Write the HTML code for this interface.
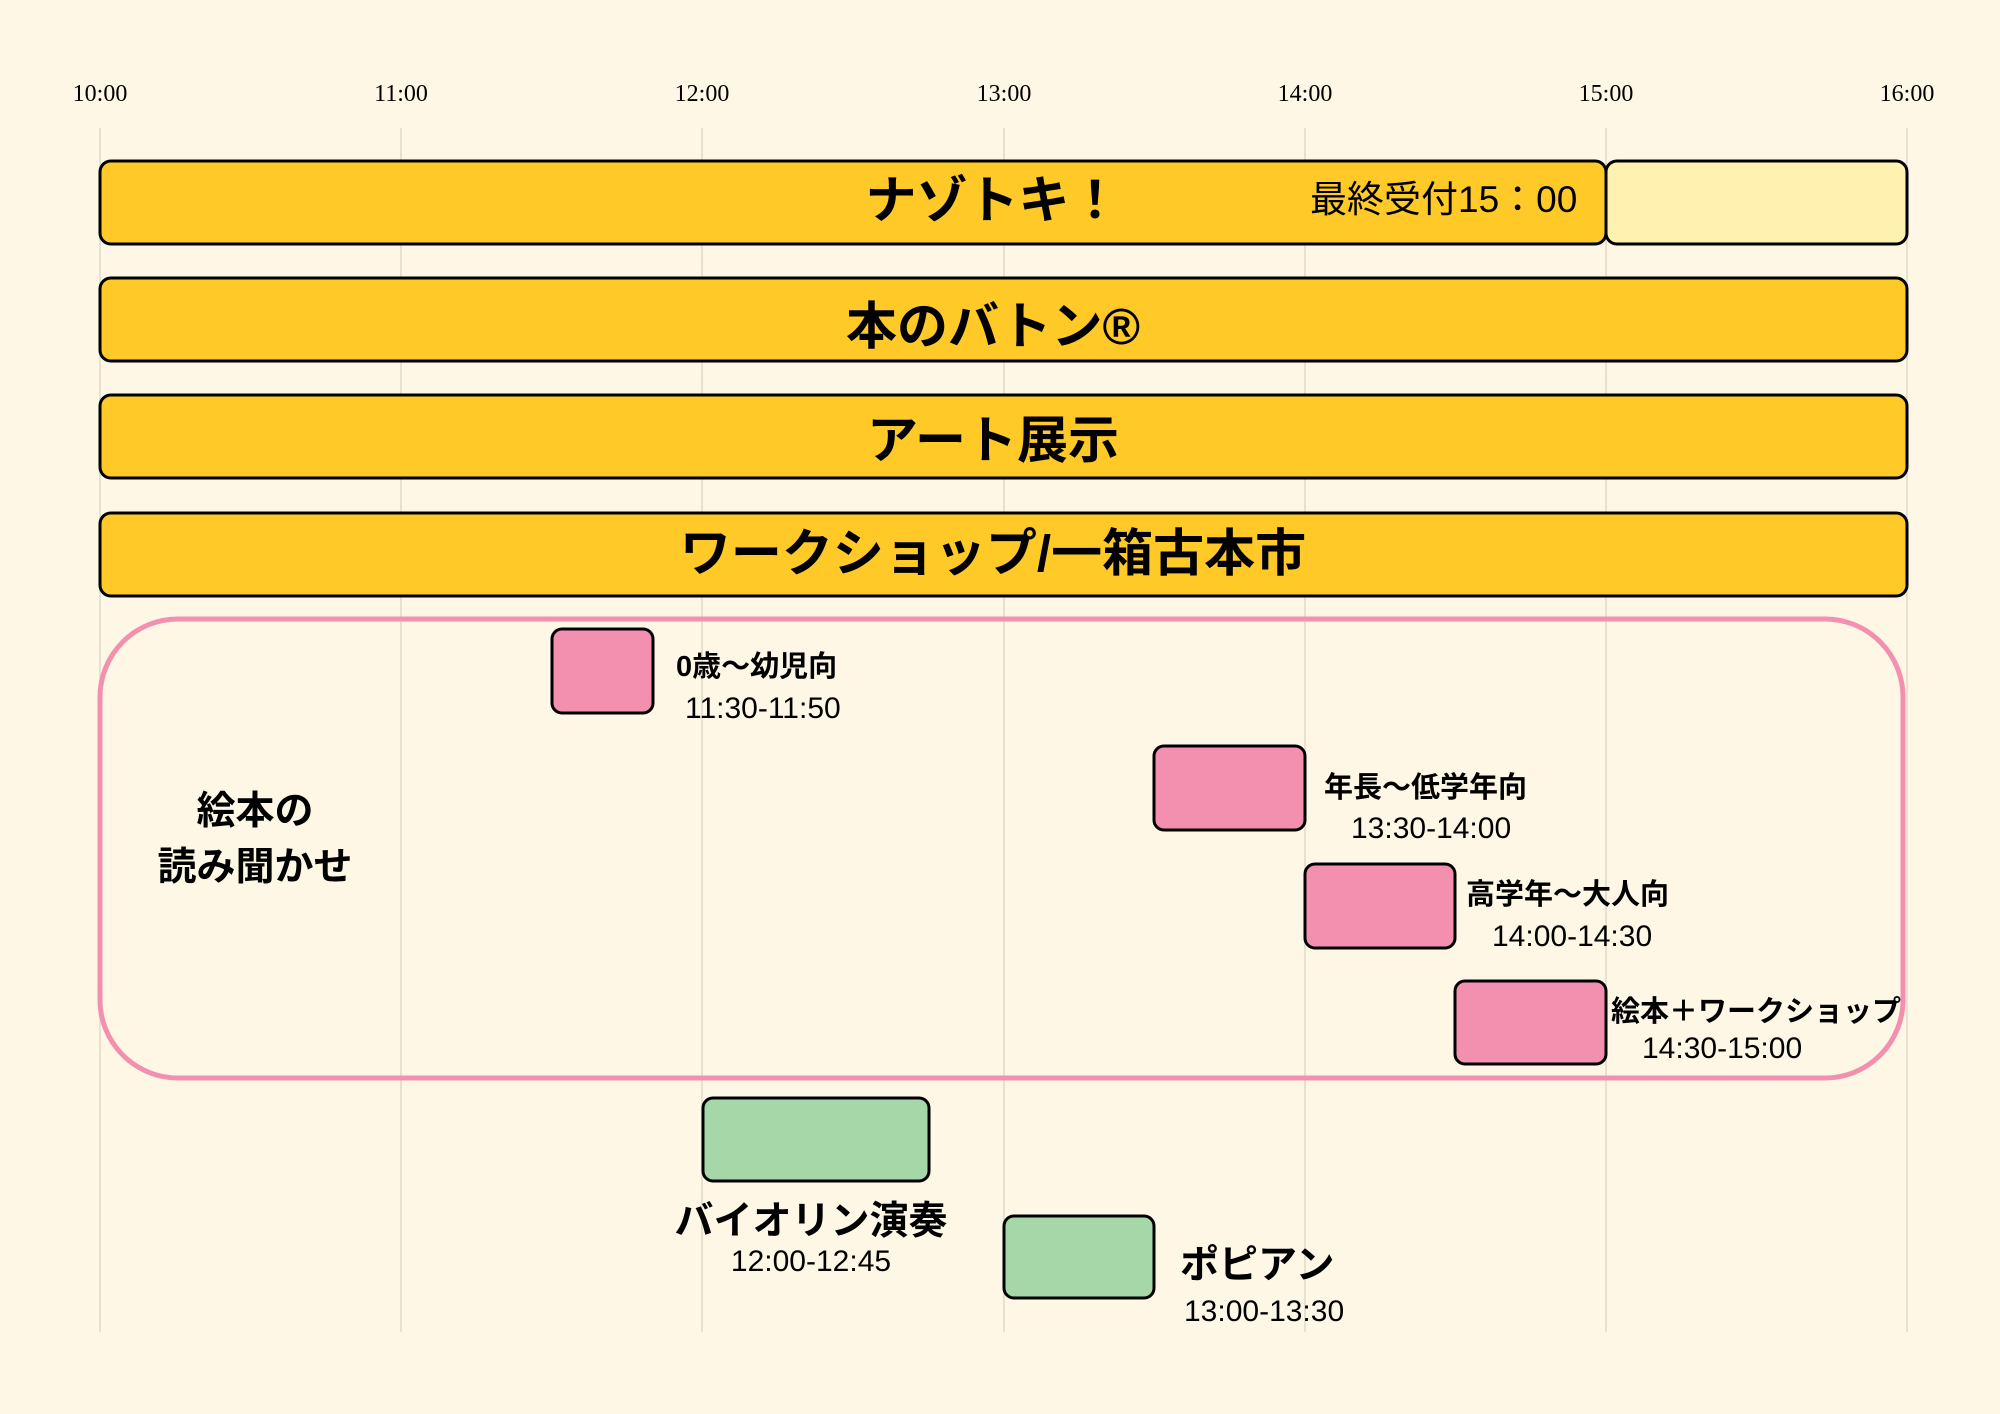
<!DOCTYPE html>
<html><head><meta charset="utf-8"><style>
html,body{margin:0;padding:0;background:#fef7e6;}
svg{display:block}
.j{font-family:"Liberation Sans","Noto Sans CJK JP",sans-serif;}
.b{font-weight:bold}
</style></head><body>
<svg width="2000" height="1414" viewBox="0 0 2000 1414" xmlns="http://www.w3.org/2000/svg">
<rect width="2000" height="1414" fill="#fef7e6"/>
<g stroke="#e9e1d0" stroke-width="2">
<line x1="100" y1="128" x2="100" y2="1332"/>
<line x1="401" y1="128" x2="401" y2="1332"/>
<line x1="702" y1="128" x2="702" y2="1332"/>
<line x1="1004" y1="128" x2="1004" y2="1332"/>
<line x1="1305" y1="128" x2="1305" y2="1332"/>
<line x1="1606" y1="128" x2="1606" y2="1332"/>
<line x1="1907" y1="128" x2="1907" y2="1332"/>
</g>
<g font-family="Liberation Serif, serif" font-size="24" text-anchor="middle" fill="#000">
<text x="100" y="101">10:00</text><text x="401" y="101">11:00</text><text x="702" y="101">12:00</text>
<text x="1004" y="101">13:00</text><text x="1305" y="101">14:00</text><text x="1606" y="101">15:00</text><text x="1907" y="101">16:00</text>
</g>
<g stroke="#000" stroke-width="3">
<rect x="100" y="161" width="1506" height="83" rx="11" fill="#ffc928"/>
<rect x="1606" y="161" width="301" height="83" rx="11" fill="#fff2b0"/>
<rect x="100" y="278" width="1807" height="83" rx="11" fill="#ffc928"/>
<rect x="100" y="395" width="1807" height="83" rx="11" fill="#ffc928"/>
<rect x="100" y="513" width="1807" height="83" rx="11" fill="#ffc928"/>
</g>
<g class="j b" font-size="51" text-anchor="middle" fill="#000">
<text x="993" y="218">ナゾトキ！</text>
<text x="993" y="344">本のバトン®</text>
<text x="993" y="458">アート展示</text>
<text x="993" y="571">ワークショップ/一箱古本市</text>
</g>
<text class="j" x="1310" y="212" font-size="37">最終受付15：00</text>
<rect x="100" y="619" width="1803" height="459" rx="78" fill="none" stroke="#f390b0" stroke-width="5"/>
<g stroke="#000" stroke-width="3" fill="#f390b0">
<rect x="552" y="629" width="101" height="84" rx="10"/>
<rect x="1154" y="746" width="151" height="84" rx="10"/>
<rect x="1305" y="864" width="150" height="84" rx="10"/>
<rect x="1455" y="981" width="151" height="83" rx="10"/>
</g>
<g stroke="#000" stroke-width="3" fill="#a6d7a8">
<rect x="703" y="1098" width="226" height="83" rx="10"/>
<rect x="1004" y="1216" width="150" height="82" rx="10"/>
</g>
<g class="j b" font-size="39" text-anchor="middle">
<text x="255" y="824">絵本の</text>
<text x="255" y="880">読み聞かせ</text>
<text x="811" y="1234">バイオリン演奏</text>
</g>
<text class="j b" x="1180" y="1278" font-size="39">ポピアン</text>
<g class="j b" font-size="29">
<text x="676" y="676">0歳〜幼児向</text>
<text x="1324" y="797">年長〜低学年向</text>
<text x="1466" y="904">高学年〜大人向</text>
<text x="1611" y="1021">絵本＋ワークショップ</text>
</g>
<g class="j" font-size="30">
<text x="685" y="718">11:30-11:50</text>
<text x="1351" y="838">13:30-14:00</text>
<text x="1492" y="946">14:00-14:30</text>
<text x="1642" y="1058">14:30-15:00</text>
<text x="811" y="1271" text-anchor="middle">12:00-12:45</text>
<text x="1184" y="1321">13:00-13:30</text>
</g>
</svg>
</body></html>
